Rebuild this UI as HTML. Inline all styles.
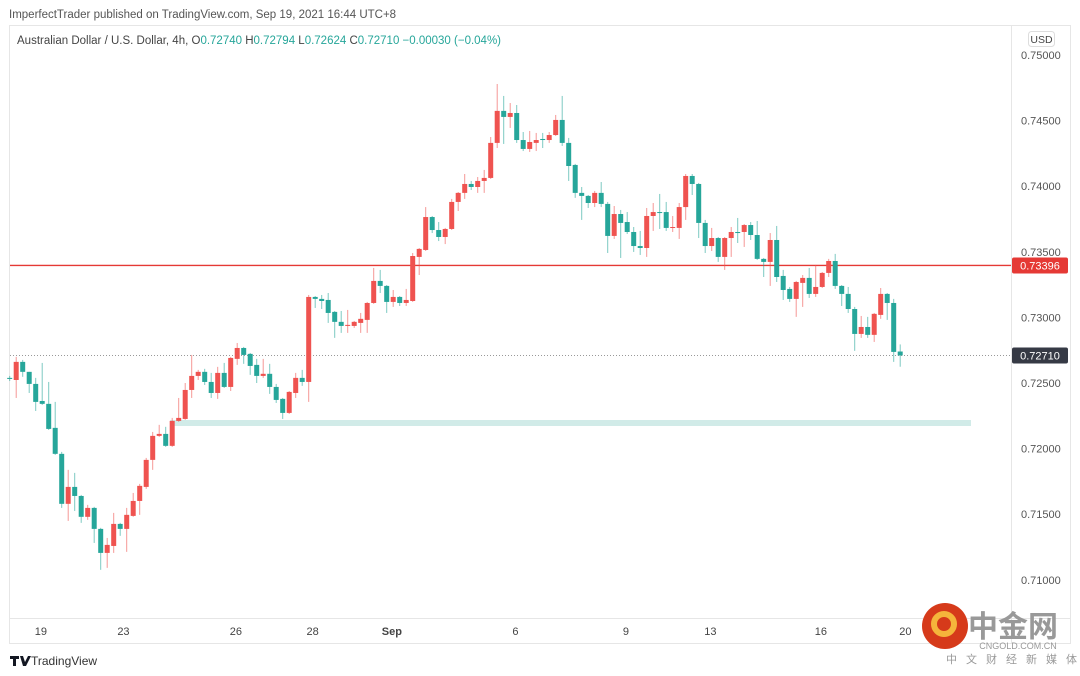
<!DOCTYPE html>
<html><head><meta charset="utf-8"><style>
body{margin:0;background:#fff;width:1080px;height:676px;overflow:hidden;font-family:"Liberation Sans","Noto Sans CJK SC",sans-serif}
svg{position:absolute;left:0;top:0}
</style></head><body>
<svg id="chart" width="1080" height="676">
<text x="9" y="18" font-size="11.5" fill="#555">ImperfectTrader published on TradingView.com, Sep 19, 2021 16:44 UTC+8</text>
<rect x="9.5" y="25.5" width="1061" height="618" fill="none" stroke="#e6e6e6"/>
<line x1="1011.5" y1="25" x2="1011.5" y2="643" stroke="#e6e6e6"/>
<line x1="9" y1="618.5" x2="1070" y2="618.5" stroke="#e6e6e6"/>
<text x="17" y="44" font-size="11.5" fill="#444">Australian Dollar / U.S. Dollar, 4h, O<tspan fill="#26a69a">0.72740</tspan>  H<tspan fill="#26a69a">0.72794</tspan>  L<tspan fill="#26a69a">0.72624</tspan>  C<tspan fill="#26a69a">0.72710</tspan>  <tspan fill="#26a69a">−0.00030 (−0.04%)</tspan></text>
<rect x="1028.5" y="31.5" width="26" height="15" rx="3" fill="#fff" stroke="#ddd"/>
<text x="1041.5" y="43" font-size="10.5" fill="#444" text-anchor="middle">USD</text>
<rect x="170" y="420" width="801" height="6" fill="#d1ebe8"/>
<g id="grid"></g>
<g id="candles"></g>
<g id="labels"></g>
<path d="M10 656h9v3h-3v7h-3v-7h-3z M20 656h3l2 6 3-6h3l-5 10h-3z" fill="#131722"/>
<text x="31" y="665" font-size="12" fill="#333">TradingView</text>
<g>
<circle cx="945" cy="626" r="23" fill="#d63a1a"/>
<circle cx="944" cy="624" r="10" fill="none" stroke="#f5b53b" stroke-width="6"/>
<text x="1013" y="637" font-size="30" font-weight="bold" fill="#999" text-anchor="middle" font-family="Noto Sans CJK SC,sans-serif">中金网</text>
<text x="1018" y="649" font-size="9" fill="#999" text-anchor="middle">CNGOLD.COM.CN</text>
<text x="1016" y="663" font-size="11" fill="#999" text-anchor="middle" letter-spacing="9" font-family="Noto Sans CJK SC,sans-serif">中文财经新媒体</text>
</g>
</svg>
<script>
const opens=[0.72539,0.72523,0.72661,0.72585,0.72493,0.72363,0.72341,0.72158,0.71960,0.71579,0.71708,0.71639,0.71480,0.71548,0.71388,0.71205,0.71258,0.71426,0.71388,0.71487,0.71601,0.71708,0.71914,0.72097,0.72112,0.72021,0.72211,0.72226,0.72447,0.72554,0.72585,0.72508,0.72424,0.72577,0.72470,0.72684,0.72767,0.72722,0.72638,0.72554,0.72570,0.72470,0.72379,0.72272,0.72424,0.72539,0.72508,0.73156,0.73141,0.73133,0.73042,0.72966,0.72935,0.72935,0.72958,0.72981,0.73110,0.73278,0.73240,0.73118,0.73156,0.73110,0.73125,0.73461,0.73514,0.73765,0.73666,0.73613,0.73674,0.73880,0.73949,0.74017,0.73994,0.74040,0.74063,0.74330,0.74574,0.74528,0.74558,0.74352,0.74284,0.74330,0.74360,0.74352,0.74390,0.74505,0.74330,0.74162,0.73949,0.73926,0.73872,0.73949,0.73865,0.73621,0.73788,0.73727,0.73651,0.73544,0.73529,0.73773,0.73803,0.73803,0.73682,0.73682,0.73841,0.74078,0.74017,0.73720,0.73544,0.73605,0.73461,0.73605,0.73651,0.73651,0.73704,0.73628,0.73446,0.73423,0.73590,0.73316,0.73217,0.73141,0.73263,0.73301,0.73179,0.73232,0.73339,0.73430,0.73240,0.73179,0.73064,0.72874,0.72927,0.72867,0.73019,0.73179,0.73110,0.72740];
const closes=[0.72531,0.72661,0.72585,0.72493,0.72356,0.72341,0.72150,0.71960,0.71579,0.71708,0.71639,0.71480,0.71548,0.71388,0.71205,0.71266,0.71426,0.71388,0.71495,0.71601,0.71716,0.71914,0.72097,0.72112,0.72021,0.72211,0.72234,0.72447,0.72554,0.72585,0.72508,0.72424,0.72577,0.72470,0.72691,0.72767,0.72714,0.72630,0.72554,0.72570,0.72470,0.72371,0.72272,0.72432,0.72539,0.72508,0.73156,0.73141,0.73125,0.73034,0.72966,0.72935,0.72943,0.72966,0.72989,0.73110,0.73278,0.73240,0.73118,0.73156,0.73110,0.73133,0.73468,0.73522,0.73765,0.73666,0.73613,0.73674,0.73880,0.73949,0.74017,0.73994,0.74040,0.74063,0.74330,0.74574,0.74528,0.74558,0.74352,0.74284,0.74337,0.74352,0.74352,0.74390,0.74505,0.74330,0.74154,0.73949,0.73926,0.73872,0.73949,0.73865,0.73621,0.73788,0.73720,0.73651,0.73544,0.73529,0.73773,0.73803,0.73796,0.73682,0.73689,0.73841,0.74078,0.74017,0.73720,0.73544,0.73605,0.73461,0.73605,0.73651,0.73643,0.73704,0.73628,0.73446,0.73423,0.73590,0.73308,0.73209,0.73141,0.73270,0.73301,0.73179,0.73232,0.73339,0.73430,0.73240,0.73179,0.73064,0.72874,0.72927,0.72867,0.73027,0.73179,0.73110,0.72737,0.72710];
const highs=[0.72554,0.72699,0.72676,0.72585,0.72539,0.72653,0.72508,0.72356,0.71975,0.71838,0.71815,0.71647,0.71571,0.71556,0.71396,0.71319,0.71510,0.71434,0.71548,0.71662,0.71731,0.71929,0.72127,0.72181,0.72166,0.72234,0.72386,0.72500,0.72714,0.72600,0.72608,0.72577,0.72623,0.72653,0.72699,0.72805,0.72775,0.72729,0.72684,0.72684,0.72646,0.72493,0.72386,0.72439,0.72577,0.72600,0.73171,0.73163,0.73171,0.73186,0.73049,0.73049,0.73057,0.72973,0.73034,0.73118,0.73377,0.73362,0.73247,0.73209,0.73163,0.73217,0.73491,0.73529,0.73841,0.73773,0.73727,0.73682,0.73903,0.73956,0.74093,0.74040,0.74070,0.74124,0.74375,0.74779,0.74688,0.74634,0.74619,0.74413,0.74421,0.74406,0.74406,0.74413,0.74543,0.74688,0.74368,0.74170,0.73994,0.73933,0.73964,0.74032,0.73880,0.73849,0.73819,0.73803,0.73689,0.73659,0.73834,0.73872,0.73941,0.73880,0.73773,0.73872,0.74093,0.74093,0.74025,0.73743,0.73682,0.73613,0.73613,0.73689,0.73758,0.73712,0.73727,0.73735,0.73453,0.73643,0.73697,0.73362,0.73232,0.73278,0.73323,0.73377,0.73400,0.73346,0.73446,0.73484,0.73247,0.73232,0.73080,0.73011,0.73004,0.73034,0.73224,0.73186,0.73141,0.72794];
const lows=[0.72515,0.72386,0.72547,0.72424,0.72287,0.72333,0.72142,0.71952,0.71548,0.71449,0.71525,0.71434,0.71457,0.71281,0.71076,0.71091,0.71205,0.71335,0.71213,0.71480,0.71495,0.71693,0.71838,0.72089,0.72013,0.72013,0.72204,0.72219,0.72386,0.72523,0.72485,0.72386,0.72379,0.72462,0.72439,0.72638,0.72646,0.72562,0.72500,0.72539,0.72417,0.72348,0.72226,0.72264,0.72386,0.72478,0.72356,0.73072,0.73064,0.72958,0.72844,0.72882,0.72882,0.72920,0.72882,0.72882,0.73103,0.73186,0.73034,0.73080,0.73087,0.73087,0.73118,0.73323,0.73506,0.73643,0.73582,0.73559,0.73666,0.73811,0.73903,0.73971,0.73949,0.73949,0.74055,0.74291,0.74322,0.74444,0.74330,0.74268,0.74261,0.74268,0.74291,0.74330,0.74383,0.74307,0.74040,0.73911,0.73743,0.73834,0.73841,0.73841,0.73491,0.73598,0.73453,0.73636,0.73499,0.73476,0.73461,0.73659,0.73674,0.73659,0.73651,0.73598,0.73743,0.73933,0.73605,0.73491,0.73506,0.73423,0.73362,0.73461,0.73567,0.73537,0.73590,0.73438,0.73308,0.73240,0.73270,0.73133,0.73118,0.73004,0.73080,0.73148,0.73156,0.73224,0.73308,0.73217,0.73087,0.73034,0.72745,0.72844,0.72844,0.72813,0.72989,0.72981,0.72661,0.72624];
const priceTicks=[0.75,0.745,0.74,0.735,0.73,0.725,0.72,0.715,0.71];
const dateLabels=["19","23","26","28","Sep","6","9","13","16","20"];
const dateIndex=[4.8,17.5,34.8,46.6,58.8,77.8,94.8,107.8,124.8,137.8];
const resistance=0.73396;

const xOf=i=>9.7+i*6.5;
const yOf=p=>55+(0.75-p)*13120;
const NS="http://www.w3.org/2000/svg";
function mk(tag,attrs,parent){const e=document.createElementNS(NS,tag);for(const k in attrs)e.setAttribute(k,attrs[k]);parent.appendChild(e);return e;}
const cg=document.getElementById('candles'),lg=document.getElementById('labels'),gg=document.getElementById('grid');

for(let i=0;i<opens.length;i++){
  const up=closes[i]>=opens[i];const col=up?'#ef5350':'#26a69a';const x=xOf(i);
  const g=mk('g',{},cg);
  
  
  mk('line',{x1:x,x2:x,y1:yOf(highs[i]),y2:yOf(lows[i]),stroke:col,'stroke-width':1,opacity:0.6},g);
  const t=yOf(Math.max(opens[i],closes[i])),b=yOf(Math.min(opens[i],closes[i]));
  mk('rect',{x:x-2.5,y:t,width:5,height:Math.max(1,b-t),fill:col},g);
}
priceTicks.forEach(p=>{
  const t=mk('text',{x:1021,y:yOf(p)+4,'font-size':11,fill:'#555'},lg);
  t.textContent=p.toFixed(5);
  
  
});
dateLabels.forEach((d,k)=>{
  const t=mk('text',{x:xOf(dateIndex[k]),y:635,'font-size':11,fill:'#444','text-anchor':'middle','font-weight':d==='Sep'?'bold':'normal'},lg);
  t.textContent=d;
  
  
});
const ry=yOf(resistance);
const rl=mk('line',{x1:10,x2:1011,y1:ry,y2:ry,stroke:'#e53935','stroke-width':1.3},gg);


const rb=mk('rect',{x:1012,y:ry-8,width:56,height:16,fill:'#e53935',rx:2},lg);


const rt=mk('text',{x:1040,y:ry+4,'font-size':11,fill:'#fff','text-anchor':'middle'},lg);
rt.textContent=resistance.toFixed(5);
const last=closes[closes.length-1],cy=yOf(last);
const cl=mk('line',{x1:10,x2:1011,y1:cy,y2:cy,stroke:'#999','stroke-dasharray':'1,2'},gg);


const cb=mk('rect',{x:1012,y:cy-8,width:56,height:16,fill:'#363a45',rx:2},lg);


const ct=mk('text',{x:1040,y:cy+4,'font-size':11,fill:'#fff','text-anchor':'middle'},lg);
ct.textContent=last.toFixed(5);
</script>
</body></html>
